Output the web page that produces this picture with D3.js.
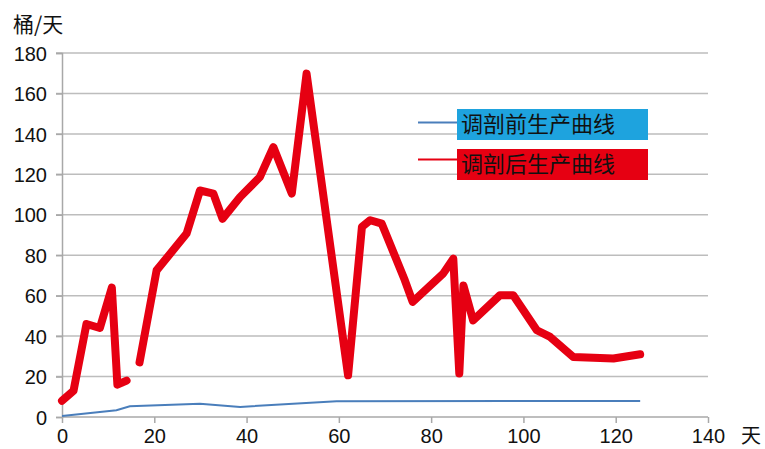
<!DOCTYPE html>
<html>
<head>
<meta charset="utf-8">
<script src="https://cdn.jsdelivr.net/npm/d3@7"></script>
<style>
  body { margin: 0; background: #fff; }
  svg { display: block; font-family: "Liberation Sans", Arial, "Noto Sans CJK SC", sans-serif; }
  .grid line { stroke: #bdbdbd; stroke-width: 1.5; }
  .axis path, .axis line { stroke: #a8a8a8; stroke-width: 1.5; }
  .axis text { font-size: 20px; fill: #111; }
</style>
</head>
<body>
<div id="chart"></div>
<script>
'use strict';

// days and production (barrels/day)
let beforeDays = [0, 11.8, 14.7, 29.9, 38.6, 59.5, 125.3];
let beforeValues = [0.5, 3.3, 5.3, 6.6, 5.0, 7.8, 7.9];

let afterDays = [0, 2.5, 5.3, 8.2, 10.8, 12, 14, null, 16.8, 20.5, 27, 29.9, 32.8, 34.8, 38.6, 42.9, 45.8, 49.8, 53,
    62, 65, 66.8, 69.3, 74.3, 76, 82.6, 84.8, 86.1, 87, 89.1, 94.9, 97.8, 102.9, 105.8, 110.8, 119.5, 125.3];
let afterValues = [8, 13, 46, 44, 64, 16, 18, null, 27, 72.5, 90.7, 112, 110.5, 98, 108.8, 118.7, 133.5, 110.5, 169.8,
    20.6, 94, 97.3, 95.6, 67.6, 56.9, 70.9, 78.3, 21.5, 65, 47.8, 60.2, 60.2, 42.9, 39.6, 29.7, 28.9, 31];

let xTicks = [0, 20, 40, 60, 80, 100, 120, 140];
let yTicks = [0, 20, 40, 60, 80, 100, 120, 140, 160, 180];
let legendLabels = ['调剖前生产曲线', '调剖后生产曲线'];

let width = 765, height = 449,
    margin = { top: 53, right: 57, bottom: 32, left: 62 };
let innerW = width - margin.left - margin.right,
    innerH = height - margin.top - margin.bottom;

let svg = d3.select('#chart').append('svg')
    .attr('width', width)
    .attr('height', height);

let g = svg.append('g')
    .attr('transform', 'translate(' + margin.left + ',' + margin.top + ')');

let x = d3.scaleLinear().domain([0, 140]).range([0, innerW]);
let y = d3.scaleLinear().domain([0, 180]).range([innerH, 0]);

// horizontal gridlines
g.append('g').attr('class', 'grid')
    .selectAll('line')
    .data(yTicks.filter(d => d > 0))
    .enter().append('line')
    .attr('x1', -6).attr('x2', innerW)
    .attr('y1', d => y(d)).attr('y2', d => y(d));

let yAxis = g.append('g').attr('class', 'axis')
    .call(d3.axisLeft(y).tickValues(yTicks).tickSize(6).tickPadding(9));
yAxis.selectAll('text').attr('dy', '0.36em');

let xAxis = g.append('g').attr('class', 'axis')
    .attr('transform', 'translate(0,' + innerH + ')')
    .call(d3.axisBottom(x).tickValues(xTicks).tickSize(6).tickPadding(6));
xAxis.select('.domain').attr('d', 'M0,0H' + innerW);

// lines
let before = beforeDays.map((d, i) => ({ x: d, y: beforeValues[i] }));
let after = afterDays.map((d, i) => ({ x: d, y: afterValues[i] }));

let line = d3.line()
    .defined(d => d.x !== null)
    .x(d => x(d.x))
    .y(d => y(d.y));

g.append('path')
    .datum(before)
    .attr('fill', 'none')
    .attr('stroke', '#4a7ebb')
    .attr('stroke-width', 2)
    .attr('d', line);

g.append('path')
    .datum(after)
    .attr('fill', 'none')
    .attr('stroke', '#e60012')
    .attr('stroke-width', 8)
    .attr('stroke-linejoin', 'round')
    .attr('stroke-linecap', 'round')
    .attr('d', line);

// legend
let legendColors = [['#4a7ebb', '#1ea3de'], ['#e60012', '#e60012']];
let legend = svg.selectAll('.legend')
    .data(legendLabels)
    .enter().append('g')
    .attr('class', 'legend')
    .attr('transform', (d, i) => 'translate(418,' + (109 + i * 40) + ')');

legend.append('line')
    .attr('x1', 0).attr('x2', 40)
    .attr('y1', (d, i) => i ? 10.5 : 13.5).attr('y2', (d, i) => i ? 10.5 : 13.5)
    .attr('stroke', (d, i) => legendColors[i][0])
    .attr('stroke-width', 2);

legend.append('rect')
    .attr('x', 39).attr('y', 0)
    .attr('width', 191).attr('height', 31)
    .attr('fill', (d, i) => legendColors[i][1]);

legend.append('text')
    .attr('x', 43).attr('y', 23)
    .style('font-size', '22px')
    .style('font-family', '"Noto Sans CJK SC", sans-serif')
    .attr('fill', '#111')
    .text(d => d);

// axis titles
svg.append('text')
    .attr('x', 13).attr('y', 32)
    .style('font-size', '21px')
    .style('font-family', '"Noto Sans CJK SC", sans-serif')
    .attr('fill', '#111')
    .text('桶/天');

svg.append('text')
    .attr('x', 741).attr('y', 443)
    .style('font-size', '20px')
    .style('font-family', '"Noto Sans CJK SC", sans-serif')
    .attr('fill', '#111')
    .text('天');
</script>
</body>
</html>
